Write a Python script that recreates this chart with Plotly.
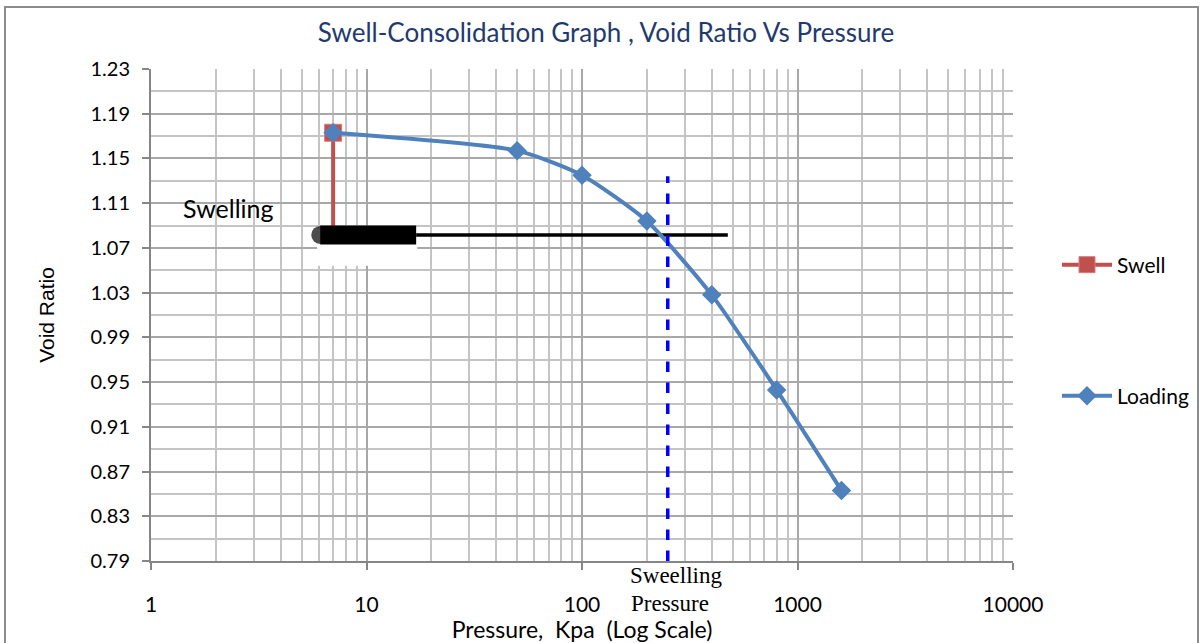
import plotly.graph_objects as go

# ---- data ----
swell_p = [7, 7]
swell_e = [1.0816, 1.173]

load_p = [7, 50, 100, 200, 400, 800, 1600]
load_e = [1.173, 1.157, 1.135, 1.094, 1.028, 0.943, 0.853]

# horizontal reference line (thick + thin part)
ref_thick_p = [6.1, 17]
ref_thin_p = [17, 475]
ref_e = [1.0816, 1.0816]

# white patch behind thick part
patch_p = [5.9, 17.2, 17.2, 5.9, 5.9]
patch_e = [1.054, 1.054, 1.088, 1.088, 1.054]

# swelling pressure line
sp_p = [250, 250]
sp_e = [0.79, 1.134]

x_ticks = [1, 10, 100, 1000, 10000]
y_ticks = [0.79, 0.83, 0.87, 0.91, 0.95, 0.99, 1.03, 1.07, 1.11, 1.15, 1.19, 1.23]

FONT = "Lato"
RED = "#C0504D"
BLUE = "#4F81BD"

fig = go.Figure()

fig.add_trace(go.Scatter(x=patch_p, y=patch_e, mode="lines", fill="toself",
                         fillcolor="white", line=dict(width=0, color="white"),
                         showlegend=False, hoverinfo="skip"))

fig.add_trace(go.Scatter(x=swell_p, y=swell_e, mode="lines+markers", name="Swell",
                         line=dict(color=RED, width=4),
                         marker=dict(symbol="square", size=17, color=RED,
                                     line=dict(color="#D47C7A", width=1)),
                         legend="legend"))

fig.add_trace(go.Scatter(x=ref_thick_p, y=ref_e, mode="lines+markers",
                         line=dict(color="black", width=19),
                         marker=dict(symbol="circle", size=[18, 0], color="black",
                                     line=dict(width=0)),
                         showlegend=False, hoverinfo="skip"))
fig.add_trace(go.Scatter(x=ref_thin_p, y=ref_e, mode="lines",
                         line=dict(color="black", width=3.5),
                         showlegend=False, hoverinfo="skip"))

fig.add_trace(go.Scatter(x=load_p, y=load_e, mode="lines+markers", name="Loading",
                         line=dict(color=BLUE, width=4, shape="spline", smoothing=0.6),
                         marker=dict(symbol="diamond", size=15, color=BLUE),
                         legend="legend2"))

fig.add_trace(go.Scatter(x=sp_p, y=sp_e, mode="lines",
                         line=dict(color="#0000FF", width=3.5, dash="dash"),
                         showlegend=False, hoverinfo="skip"))

W, H = 1203, 643
L, R, T, B = 151, 190, 69, 82
pw, ph = W - L - R, H - T - B


def px(xp):
    return (xp - L) / pw


def py(yp):
    return (H - B - yp) / ph


GRID_MAJ = "#A8A8A8"
GRID_MIN = "#C4C4C4"

fig.update_layout(
    width=W, height=H,
    margin=dict(l=L, r=R, t=T, b=B, autoexpand=False),
    paper_bgcolor="white", plot_bgcolor="white",
    font=dict(family=FONT, size=20, color="black"),
    title=dict(text="Swell-Consolidation Graph , Void Ratio Vs Pressure",
               x=606 / W, xanchor="center", y=1 - 33 / H, yanchor="middle",
               font=dict(family=FONT, size=26, color="#1F3A6E")),
    xaxis=dict(type="log", range=[0, 4], tickvals=x_ticks,
               ticktext=[str(v) for v in x_ticks], automargin=False,
               showgrid=True, gridcolor=GRID_MAJ, gridwidth=2,
               minor=dict(dtick="D1", showgrid=True, gridcolor=GRID_MIN, gridwidth=2),
               showline=True, linecolor="#868686", linewidth=2,
               ticks="outside", ticklen=7, tickwidth=2, tickcolor="#868686",
               ticklabelstandoff=17,
               tickfont=dict(size=21), zeroline=False,
               title=dict(text="Pressure,\u00a0 Kpa\u00a0 (Log Scale)", standoff=0,
                          font=dict(size=23))),
    yaxis=dict(range=[0.79, 1.23], tickvals=y_ticks,
               ticktext=["%.2f" % v for v in y_ticks], automargin=False,
               showgrid=True, gridcolor=GRID_MAJ, gridwidth=2,
               minor=dict(dtick=0.02, tick0=0.79, showgrid=True,
                          gridcolor=GRID_MIN, gridwidth=2),
               showline=True, linecolor="#868686", linewidth=2,
               ticks="outside", ticklen=7, tickwidth=2, tickcolor="#868686",
               ticklabelstandoff=8,
               tickfont=dict(size=20), zeroline=False,
               title=dict(text="Void Ratio", standoff=30,
                          font=dict(family="Liberation Sans", size=21))),
    legend=dict(x=px(1057), y=py(265), xanchor="left", yanchor="middle",
                font=dict(size=21), bgcolor="rgba(0,0,0,0)", itemwidth=50),
    legend2=dict(x=px(1057), y=py(396), xanchor="left", yanchor="middle",
                 font=dict(size=21), bgcolor="rgba(0,0,0,0)", itemwidth=50),
    showlegend=True,
)

fig.add_annotation(text="Swelling", xref="paper", yref="paper",
                   x=px(228), y=py(208), xanchor="center", yanchor="middle",
                   showarrow=False,
                   font=dict(family=FONT, size=25, color="black"))
fig.add_annotation(text="Sweelling", xref="paper", yref="paper",
                   x=px(676), y=py(575), xanchor="center", yanchor="middle",
                   showarrow=False, borderpad=0,
                   font=dict(family="Liberation Serif", size=23, color="black"))
fig.add_annotation(text="Pressure", xref="paper", yref="paper",
                   x=px(670), y=py(603), xanchor="center", yanchor="middle",
                   showarrow=False, borderpad=0,
                   font=dict(family="Liberation Serif", size=23, color="black"))

# outer chart border
fig.add_shape(type="rect", xref="paper", yref="paper",
              x0=px(5), x1=px(1198), y0=py(660), y1=py(7),
              line=dict(color="#8C8C8C", width=2), layer="below")

fig.write_html("out.html")
